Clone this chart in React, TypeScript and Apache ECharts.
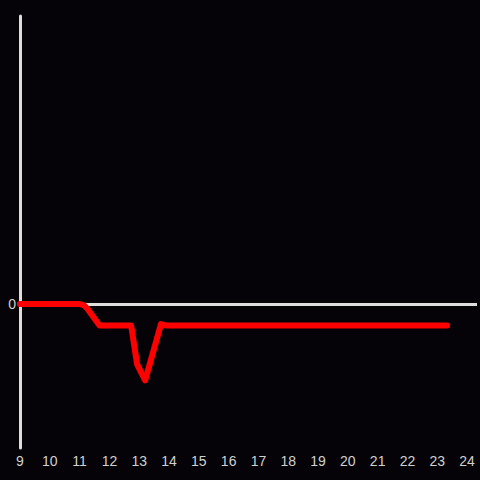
import React, { useEffect, useRef } from "react";
import * as echarts from "echarts";

const hours = [9, 11.0, 11.15, 11.25, 11.67, 12.73, 12.93, 13.2, 13.73, 13.93, 23.33];
const values = [0, 0, -1, -3, -15, -15, -42, -53, -14, -15, -15];
const xTicks = [9, 10, 11, 12, 13, 14, 15, 16, 17, 18, 19, 20, 21, 22, 23, 24];

export default function App() {
  const ref = useRef<HTMLDivElement>(null);
  useEffect(() => {
    const chart = echarts.init(ref.current!, null, { renderer: "svg" });
    chart.setOption({
      animation: false,
      backgroundColor: "#050307",
      grid: { left: 20, right: 0, top: 16, bottom: 32 },
      xAxis: {
        type: "value",
        min: 9,
        max: 24 + 1 / 3,
        interval: 1,
        axisLine: { show: false },
        axisTick: { show: false },
        splitLine: { show: false },
        axisLabel: {
          color: "#d0d0d0",
          fontSize: 14,
          fontFamily: "Liberation Sans",
          margin: 6,
          formatter: (v: number) => (xTicks.includes(v) ? String(v) : ""),
        },
      },
      yAxis: {
        type: "value",
        min: -100,
        max: 200,
        interval: 100,
        axisLine: { show: true, lineStyle: { color: "#dddddd", width: 3 } },
        axisTick: { show: false },
        splitLine: { show: false },
        axisLabel: {
          color: "#d0d0d0",
          fontSize: 14,
          fontFamily: "Liberation Sans",
          margin: 4,
          formatter: (v: number) => (v === 0 ? "0" : ""),
        },
      },
      series: [
        {
          type: "line",
          data: hours.map((h, i) => [h, values[i]]),
          showSymbol: false,
          lineStyle: { color: "#ff0000", width: 6, join: "round", cap: "round" },
          z: 3,
          markLine: {
            silent: true,
            symbol: "none",
            label: { show: false },
            lineStyle: { color: "#dddddd", width: 3, type: "solid" },
            data: [{ yAxis: 0 }],
            z: 1,
          },
        },
      ],
    });
    return () => chart.dispose();
  }, []);
  return <div ref={ref} style={{ width: 480, height: 480, position: "absolute", left: 0, top: 0 }} />;
}
